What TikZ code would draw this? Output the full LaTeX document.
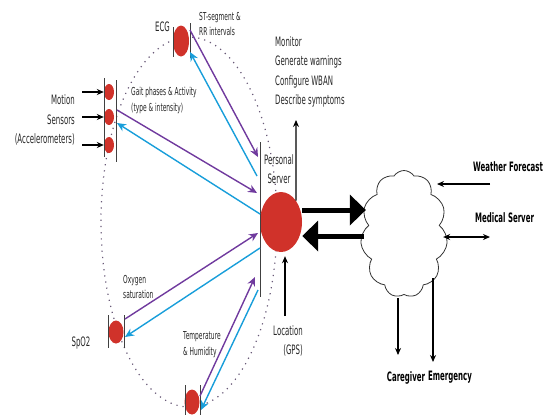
\documentclass[tikz,border=0pt]{standalone}
\usepackage{fontspec}
\setmainfont{DejaVu Sans}[FakeStretch=0.54]
\usetikzlibrary{arrows.meta, positioning, shapes.geometric, shapes.symbols}
\definecolor{sensred}{RGB}{208,50,42}
\definecolor{upviolet}{RGB}{112,58,158}
\definecolor{downblue}{RGB}{24,158,218}
\definecolor{dotgray}{RGB}{105,90,120}
\begin{document}
\begin{tikzpicture}[x=1bp, y=-1bp]
		\tikzstyle{Sensor} = [ellipse, fill=sensred, inner sep=0pt]
		\tikzstyle{Bar} = [draw=black!75, line width=1bp]
		\tikzstyle{Lab} = [font=\fontsize{13}{19.3}\selectfont, inner sep=0pt, text=black!85]
		\tikzstyle{Small} = [font=\fontsize{11}{16}\selectfont, inner sep=0pt, align=left, anchor=west, text=black!85]
		\tikzstyle{Bold} = [font=\fontsize{13}{16}\selectfont\bfseries, inner sep=0pt]
		\tikzstyle{arrow} = [line width=1.1bp, -{Stealth[length=7bp,width=6bp]}]
		\tikzstyle{both} = [line width=1.1bp, {Stealth[length=7bp,width=6bp]}-{Stealth[length=7bp,width=6bp]}]
		\tikzstyle{up} = [upviolet, line width=1.4bp, -{Stealth[length=9bp,width=8bp]}]
		\tikzstyle{down} = [downblue, line width=1.4bp, -{Stealth[length=9bp,width=8bp]}]
		\tikzstyle{fat} = [line width=5bp, -{Triangle[length=16bp,width=30bp]}]

		\useasboundingbox (0,0) rectangle (547,415);
		\draw[dotgray, line width=1.2bp, dash pattern=on 1.2bp off 5bp] (189,222) ellipse [x radius=88bp, y radius=185bp];

		\node (ecg) [Sensor, minimum width=16bp, minimum height=31bp] at (181,41) {};
		\node (mot1) [Sensor, minimum width=10bp, minimum height=16bp] at (109,92) {};
		\node (mot2) [Sensor, minimum width=10bp, minimum height=16bp] at (109,117) {};
		\node (mot3) [Sensor, minimum width=10bp, minimum height=16bp] at (109,145) {};
		\node (spo) [Sensor, minimum width=15bp, minimum height=23bp] at (116,332) {};
		\node (temp) [Sensor, minimum width=15bp, minimum height=25bp] at (192,402) {};
		\node (srv) [Sensor, minimum width=42bp, minimum height=60bp] at (281,222) {};

		\draw[Bar] (173,27) -- (173,57) (190,23) -- (190,58);
		\draw[Bar] (104,78) -- (104,157) (116,80) -- (116,162);
		\draw[Bar] (108,315) -- (108,348) (124,315) -- (124,348);
		\draw[Bar] (185,385) -- (185,415) (200,385) -- (200,415);
		\draw[Bar] (260,142) -- (260,297);

		\node (ecgL) [Lab, anchor=east] at (170,27) {ECG};
		\node (ecgT) [Small] at (199,24) {ST-segment \&\\RR intervals};
		\node (motL) [Lab, align=right, anchor=east] at (75,120) {Motion\\Sensors\\(Accelerometers)};
		\node (gait) [Small] at (131,100) {Gait phases \& Activity\\(type \& intensity)};
		\node (srvL) [Lab, align=center] at (279,169) {Personal\\Server};
		\node (task) [Lab, align=left, anchor=west] at (275,72) {Monitor\\Generate warnings\\Configure WBAN\\Describe symptoms};
		\node (gps) [Lab, align=right, anchor=east] at (303,341) {Location\\(GPS)};
		\node (oxy) [Small] at (123,287) {Oxygen\\saturation};
		\node (spoL) [Lab] at (81,343) {SpO2};
		\node (tmpL) [Small] at (183,345) {Temperature\\\& Humidity};
		\node (wf) [Bold, anchor=west] at (473,167) {Weather Forecast};
		\node (med) [Bold, anchor=west] at (475,218) {Medical Server};
		\node (care) [Bold] at (406,378) {Caregiver};
		\node (emer) [Bold] at (450,377) {Emergency};

		\node (cloud) [cloud, draw=black!80, line width=0.8bp, cloud puffs=11, cloud puff arc=115, minimum width=87bp, minimum height=127bp, inner sep=0pt] at (404,234) {};

		\coordinate (in1) at (82,92);
		\coordinate (in2) at (82,117);
		\coordinate (in3) at (82,145);
		\draw[arrow] (in1) -- (mot1.west);
		\draw[arrow] (in2) -- (mot2.west);
		\draw[arrow] (in3) -- (mot3.west);

		\coordinate (ecgO) at (190,30);
		\coordinate (ecgI) at (190,52);
		\coordinate (motO) at (117,110);
		\coordinate (motI) at (117,123);
		\coordinate (spoO) at (125,319);
		\coordinate (spoI) at (125,337);
		\coordinate (tmpO) at (200,396);
		\coordinate (tmpI) at (201,410);
		\coordinate (srv1) at (258,157);
		\coordinate (srv2) at (257,176);
		\coordinate (srv3) at (257,193);
		\coordinate (srv4) at (260,214);
		\coordinate (srv5) at (258,233);
		\coordinate (srv6) at (260,248);
		\coordinate (srv7) at (255,277);
		\coordinate (srv8) at (258,290);
		\draw[up] (ecgO) -- (srv1);
		\draw[down] (srv2) -- (ecgI);
		\draw[up] (motO) -- (srv3);
		\draw[down] (srv4) -- (motI);
		\draw[up] (spoO) -- (srv5);
		\draw[down] (srv6) -- (spoI);
		\draw[up] (tmpO) -- (srv7);
		\draw[down] (srv8) -- (tmpI);

		\coordinate (taskIn) at (296,120);
		\draw[arrow] (srv.north east) -- (taskIn);
		\coordinate (gpsOut) at (285,316);
		\draw[arrow, shorten >=4bp] (gpsOut) -- (gpsOut |- srv.south);

		\draw[fat] ([yshift=12bp]srv.east) -- ([yshift=12bp, xshift=4bp]srv.east -| cloud.west);
		\draw[fat] ([yshift=-14bp, xshift=2bp]srv.east -| cloud.west) -- ([yshift=-14bp]srv.east);

		\coordinate (wfIn) at (490,184);
		\coordinate (wfTip) at (437,184);
		\draw[arrow] (wfIn) -- (wfTip);
		\coordinate (medEnd) at (490,237);
		\draw[both] ([xshift=-3bp]medEnd -| cloud.east) -- (medEnd);
		\coordinate (careTop) at (398,298);
		\coordinate (careEnd) at (398,355);
		\draw[arrow] (careTop) -- (careEnd);
		\coordinate (emerTop) at (433,278);
		\coordinate (emerEnd) at (433,362);
		\draw[arrow] (emerTop) -- (emerEnd);

		\end{tikzpicture}
\end{document}
